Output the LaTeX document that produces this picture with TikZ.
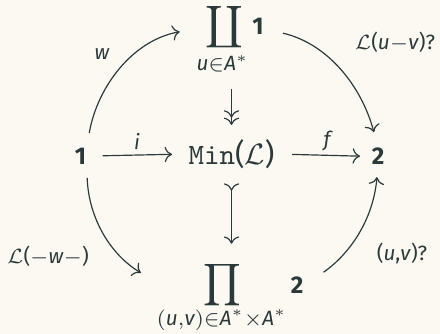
\documentclass[tikz,border=0pt]{standalone}
\usepackage{amsmath}
\usepackage{fontspec}
\setmainfont{Fira Sans}
\setmonofont{Latin Modern Mono}
\usepackage{tikz}
\usetikzlibrary{arrows.meta,fit}
\definecolor{ink}{HTML}{2A3A3A}
\definecolor{paper}{HTML}{FCF8F2}
\newcommand\dig[1]{\text{\fontsize{8.2}{10}\selectfont\bfseries #1}}
\newcommand\var[1]{\text{\itshape #1}}
\tikzset{
  obj/.style={inner sep=0pt,text=ink,anchor=base},
  sign/.style={inner sep=0pt,text=ink,anchor=base},
  cell/.style={inner sep=0pt},
  lbl/.style={inner sep=0pt,text=ink,font=\fontsize{7}{8}\selectfont},
  map/.style={draw=ink,line width=0.4pt,-{To[]}},
  epi/.style={map,-{To[]To[]}},
  mono/.style={map,{To[reversed]}-{To[]}}
}

\begin{document}
\begin{tikzpicture}[x=0.339pt,y=-0.339pt]
    \fill[paper] (0,0) rectangle (440,334);
    \useasboundingbox (0,0) rectangle (440,334);

    % objects
    \node[obj] (one) at (80.5,164.3) {$\dig{1}$};
    \node[obj] (min) at (231.5,164.3) {\texttt{Min}($\mathcal{L}$)};
    \node[obj] (two) at (378,164.8) {$\dig{2}$};

    \node[sign] (coprod) at (224.5,35) {$\displaystyle\coprod$};
    \node[obj] (coprodsub) at (222.5,71) {$\scriptstyle\var{u}\in\var{A}^{*}$};
    \node[obj] (coprodone) at (258,35) {$\dig{1}$};
    \node[cell,fit=(coprod)(coprodsub)(coprodone)] (top) {};

    \node[sign] (prod) at (222.5,293) {$\displaystyle\prod$};
    \node[obj] (prodsub) at (221.5,325) {$\scriptstyle(\var{u},\var{v})\in\var{A}^{*}\times\var{A}^{*}$};
    \node[obj] (prodtwo) at (297,293) {$\dig{2}$};
    \node[cell,fit=(prod)(prodsub)(prodtwo)] (bottom) {};

    % labels
    \node[lbl] (li) at (137,141) {\itshape i};
    \node[lbl] (lf) at (327,141) {\itshape f};
    \node[lbl] (lw) at (102,54) {\itshape w};
    \node[lbl] (luv) at (395,42) {$\mathcal{L}$(\textit{u}$-$\textit{v})?};
    \node[lbl] (lww) at (48,256) {$\mathcal{L}$($-$\textit{w}$-$)};
    \node[lbl] (lq) at (402,253) {(\textit{u},\textit{v})?};

    % maps
    \draw[map,shorten <=5.4pt,shorten >=5.4pt] (one.east) -- (min.west);
    \draw[map,shorten <=5.8pt,shorten >=3.8pt] (min.east) -- (two.west);
    \draw[epi,shorten <=5.3pt,shorten >=4.7pt] (coprodsub.south -| min) -- (min.north);
    \draw[mono,shorten <=4.8pt,shorten >=6pt] (min.south) -- (prod.north -| min);
    \draw[map,shorten <=5pt,shorten >=5.4pt] (one.north east) to[out=80,in=190] (top.165);
    \draw[map,shorten <=6.3pt,shorten >=5.4pt] (top.15) to[out=-13,in=105] (two.north);
    \draw[map,shorten <=4.4pt,shorten >=5.8pt] (one.south east) to[out=-88,in=149] (bottom.169);
    \draw[map,shorten <=7.9pt,shorten >=4pt] (bottom.8) to[out=35,in=-95] (two.south);
\end{tikzpicture}
\end{document}
